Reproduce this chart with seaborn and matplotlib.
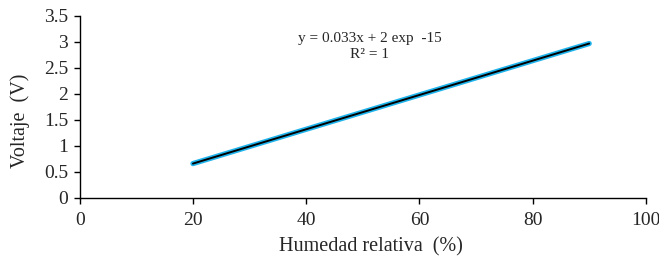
import numpy as np
import pandas as pd
import matplotlib
matplotlib.use('Agg')
import matplotlib.pyplot as plt
import seaborn as sns

humedad = [20, 30, 40, 50, 60, 70, 80, 90]
voltaje = [0.66, 0.99, 1.32, 1.65, 1.98, 2.31, 2.64, 2.97]
x_ticks = [0, 20, 40, 60, 80, 100]
y_ticks = [0, 0.5, 1, 1.5, 2, 2.5, 3, 3.5]
y_tick_labels = ['0', '0.5', '1', '1.5', '2', '2.5', '3', '3.5']

df = pd.DataFrame({'humedad': humedad, 'voltaje': voltaje})

sns.set_style('ticks')
plt.rcParams['font.family'] = ['Liberation Serif', 'DejaVu Serif']

fig = plt.figure(figsize=(6.59, 2.58), dpi=100)
ax = fig.add_axes([0.121, 0.233, 0.859, 0.705])

# datos medidos
sns.lineplot(data=df, x='humedad', y='voltaje', ax=ax, color='#1fb4ec', linewidth=3.8)

# linea de tendencia
coef = np.polyfit(df['humedad'], df['voltaje'], 1)
xt = np.array([humedad[0], humedad[-1]])
sns.lineplot(x=xt, y=np.polyval(coef, xt), ax=ax, color='black', linewidth=1.4)

ax.text(51.2, 3.07, 'y = 0.033x + 2 exp  -15', ha='center', va='center', fontsize=11)
ax.text(51.2, 2.76, 'R² = 1', ha='center', va='center', fontsize=11)

ax.set_xlim(0, 100)
ax.set_ylim(0, 3.5)
ax.set_xticks(x_ticks)
ax.set_yticks(y_ticks)
ax.set_yticklabels(y_tick_labels)
ax.tick_params(labelsize=14, length=4.3, width=1, direction='out', color='black')
ax.tick_params(axis='x', pad=6)
ax.tick_params(axis='y', pad=4)
ax.set_xlabel('Humedad relativa  (%)', fontsize=14.5)
ax.set_ylabel('Voltaje  (V)', fontsize=14.5)
ax.xaxis.set_label_coords(0.514, -0.215)
ax.yaxis.set_label_coords(-0.088, 0.423)
sns.despine(ax=ax)
for s in ['left', 'bottom']:
    ax.spines[s].set_color('black')
    ax.spines[s].set_linewidth(1)

fig.savefig('out.png', dpi=100)
